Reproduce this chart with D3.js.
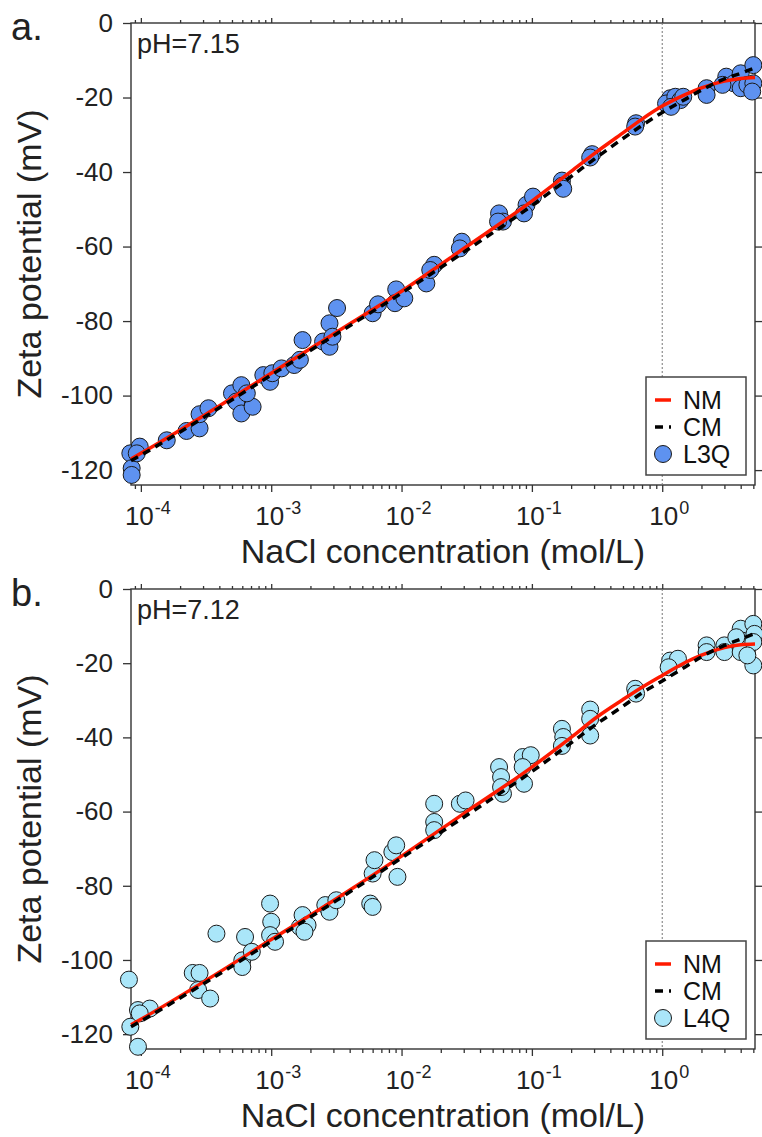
<!DOCTYPE html>
<html>
<head>
<meta charset="utf-8">
<script src="https://cdn.jsdelivr.net/npm/d3@7"></script>
<style>
  body { margin: 0; background: #fff; }
  svg { display: block; }
</style>
</head>
<body>
<div id="chart"></div>
<script>
// panel a: L3Q measurements (NaCl mol/L, zeta mV)
var concA = [8.3e-5, 8.5e-5, 8.5e-5, 9.8e-5, 9.3e-5, 1.58e-4, 2.24e-4, 2.82e-4, 2.82e-4, 3.3e-4,
  5.0e-4, 5.9e-4, 5.4e-4, 5.9e-4, 7.2e-4, 6.5e-4, 8.7e-4, 9.8e-4, 1.02e-3, 1.2e-3,
  1.5e-3, 1.66e-3, 1.74e-3, 2.5e-3, 2.8e-3, 2.8e-3, 3.2e-3, 2.95e-3, 6.0e-3, 6.6e-3,
  9.1e-3, 8.9e-3, 1.05e-2, 1.55e-2, 1.78e-2, 1.66e-2, 2.9e-2, 2.8e-2, 5.6e-2, 6.0e-2,
  5.5e-2, 9.1e-2, 0.102, 8.7e-2, 0.17, 0.17, 0.174, 0.29, 0.28, 0.63,
  0.62, 1.15, 1.07, 1.26, 1.38, 1.17, 1.45, 2.19, 2.19, 3.1,
  3.55, 4.0, 4.0, 4.5, 5.0, 5.0, 4.9, 2.9];
var zetaA = [-115.5, -119.5, -121.3, -113.7, -115.5, -112, -109.5, -108.8, -105, -103.4,
  -99.4, -97.2, -101.6, -104.8, -103, -99.4, -94.5, -96.3, -94, -92.7,
  -91.8, -90.4, -85.1, -85.5, -86.9, -80.6, -76.5, -84.2, -77.9, -75.5,
  -71.5, -75.2, -73.9, -69.9, -64.9, -66.3, -58.7, -60.5, -51.1, -53.3,
  -53.3, -48.8, -46.6, -51.1, -42.3, -43.7, -44.5, -35.2, -36.1, -26.9,
  -27.8, -20.2, -21.6, -19.8, -20.7, -22.5, -19.8, -17.5, -19.3, -14.4,
  -16.2, -13.5, -17.5, -16.6, -11.3, -16.2, -18.4, -16.6];

// panel b: L4Q measurements
var concB = [8.1e-5, 8.3e-5, 9.5e-5, 9.5e-5, 1.17e-4, 9.8e-5, 2.5e-4, 2.82e-4, 2.75e-4, 3.4e-4,
  3.8e-4, 6.0e-4, 6.0e-4, 6.3e-4, 7.1e-4, 9.8e-4, 1.0e-3, 9.8e-4, 1.07e-3, 1.66e-3,
  1.74e-3, 1.9e-3, 1.8e-3, 2.6e-3, 2.8e-3, 3.16e-3, 5.75e-3, 6.0e-3, 6.0e-3, 6.2e-3,
  8.5e-3, 9.1e-3, 9.3e-3, 1.78e-2, 1.78e-2, 1.78e-2, 2.8e-2, 3.1e-2, 5.6e-2, 5.8e-2,
  6.0e-2, 5.8e-2, 8.5e-2, 9.8e-2, 8.5e-2, 8.7e-2, 0.17, 0.174, 0.17, 0.28,
  0.28, 0.28, 0.62, 0.63, 1.15, 1.32, 1.12, 2.19, 2.19, 3.0,
  3.0, 4.0, 4.1, 4.0, 5.0, 5.1, 5.0, 5.0, 4.5, 3.7];
var zetaB = [-105.3, -118, -123.4, -113.5, -113.1, -114.4, -103.5, -103.5, -108.1, -110.4,
  -92.9, -100.1, -101.9, -93.8, -97.8, -84.8, -89.7, -93.3, -95.1, -91.1,
  -87.9, -90.6, -92.4, -85.2, -87, -83.9, -84.8, -85.7, -76.7, -73.1,
  -70.9, -69.1, -77.6, -57.9, -62.8, -65, -57.9, -57, -48, -50.7,
  -55.2, -53.4, -45.3, -44.8, -48, -52.5, -37.7, -39.9, -42.3, -32.5,
  -35, -39.5, -26.9, -28.2, -19.3, -18.8, -21.1, -15.2, -17, -15.2,
  -17, -10.7, -13.9, -17, -9.4, -12.1, -14.3, -20.6, -17.9, -13];

// model curves (NM = red solid, CM = black dashed)
var curveConc = [8.4e-5, 1e-4, 3.16e-4, 1e-3, 3.16e-3, 1e-2, 3.16e-2, 0.1, 0.2, 0.316, 0.5, 0.7, 1, 1.5, 2, 3, 4, 5.15];
var nmA = [-117, -115.5, -105, -94, -83, -72, -60, -47.8, -39.8, -34.5, -29.5, -25.8, -22.3, -19.2, -17.4, -15.6, -14.9, -14.6];
var cmA = [-117.5, -116, -105.5, -94.5, -83.5, -72.5, -61, -49, -41.2, -36, -31, -27.5, -24, -20.5, -18, -15, -13.5, -12];
var nmB = [-117.5, -116, -105.5, -94.5, -83.5, -72, -60, -48, -40, -34.5, -29.8, -26.5, -23.3, -19.8, -17.8, -15.8, -15, -14.8];
var cmB = [-118, -116.5, -106, -95, -84, -72.5, -61, -49.2, -41.5, -36.3, -31.6, -28, -24.8, -21, -18.3, -15.2, -13.5, -12];

var yTicks = [0, -20, -40, -60, -80, -100, -120];
var xMajor = [1e-4, 1e-3, 1e-2, 1e-1, 1];
var xExp = ["-4", "-3", "-2", "-1", "0"];

var font = "'Liberation Sans', Arial, sans-serif";
var ink = "#222";

var svg = d3.select("#chart")
  .append("svg")
  .attr("width", 762)
  .attr("height", 1137)
  .style("font-family", font);

// minor + major tick positions on the log axis
var xAll = [];
for (var k = -5; k <= 0; k++) {
  for (var m = 1; m <= 9; m++) {
    var v = m * Math.pow(10, k);
    if (v >= 8.4e-5 && v <= 5.15) xAll.push(v);
  }
}
function isMajor(v) {
  return xMajor.some(function (d) { return Math.abs(d - v) / d < 1e-6; });
}

function drawPanel(p) {
  var x = d3.scaleLog().domain([8.4e-5, 5.15]).range([131, 755]);
  var y = d3.scaleLinear().domain([-124, 0]).range([p.bottom, p.top]);
  var g = svg.append("g");

  // frame
  g.append("rect")
    .attr("x", 131).attr("y", p.top)
    .attr("width", 755 - 131).attr("height", p.bottom - p.top)
    .attr("fill", "none").attr("stroke", "#333").attr("stroke-width", 1.4);

  // ticks on all four sides
  var bottomAx = g.append("g")
    .attr("transform", "translate(0," + p.bottom + ")")
    .call(d3.axisBottom(x).tickValues(xAll).tickFormat("").tickSizeOuter(0));
  bottomAx.selectAll(".tick line").attr("y2", (d) => (isMajor(d) ? 7 : 4));

  var topAx = g.append("g")
    .attr("transform", "translate(0," + p.top + ")")
    .call(d3.axisTop(x).tickValues(xAll).tickFormat("").tickSizeOuter(0));
  topAx.selectAll(".tick line").attr("y2", (d) => (isMajor(d) ? -5 : -3));

  var leftAx = g.append("g")
    .attr("transform", "translate(131,0)")
    .call(d3.axisLeft(y).tickValues(yTicks).tickFormat((d) => String(d))
      .tickSize(8).tickPadding(10).tickSizeOuter(0));
  leftAx.selectAll("text")
    .attr("font-size", 26).attr("font-family", font).attr("fill", ink);

  g.append("g")
    .attr("transform", "translate(755,0)")
    .call(d3.axisRight(y).tickValues(yTicks).tickSize(7).tickFormat("").tickSizeOuter(0));

  g.selectAll(".domain").remove();
  g.selectAll(".tick line").attr("stroke", "#333").attr("stroke-width", 1.3);

  // 10^n labels
  var lab = g.selectAll(".xlab")
    .data(xMajor)
    .enter()
    .append("text")
    .attr("class", "xlab")
    .attr("x", (d) => x(d) + 7)
    .attr("y", p.bottom + 40)
    .attr("text-anchor", "middle")
    .attr("fill", ink)
    .attr("font-size", 26);
  lab.append("tspan").text("10");
  lab.append("tspan")
    .attr("dy", -11).attr("dx", 1)
    .attr("font-size", 18)
    .text((d, i) => xExp[i]);

  // dotted line at 1 mol/L
  g.append("line")
    .attr("x1", x(1)).attr("x2", x(1))
    .attr("y1", p.top).attr("y2", p.bottom)
    .attr("stroke", "#777").attr("stroke-width", 1)
    .attr("stroke-dasharray", "2,2");

  // markers
  g.selectAll(".pt")
    .data(p.conc)
    .enter()
    .append("circle")
    .attr("class", "pt")
    .attr("cx", (d) => x(d))
    .attr("cy", (d, i) => y(p.zeta[i]))
    .attr("r", 8.5)
    .attr("fill", p.color)
    .attr("stroke", "#1a1a1a")
    .attr("stroke-width", 1);

  var line = d3.line()
    .x((d) => x(d[0]))
    .y((d) => y(d[1]))
    .curve(d3.curveMonotoneX);

  g.append("path")
    .datum(curveConc.map((c, i) => [c, p.nm[i]]))
    .attr("d", line)
    .attr("fill", "none")
    .attr("stroke", "#ff1a00")
    .attr("stroke-width", 3.5);

  g.append("path")
    .datum(curveConc.map((c, i) => [c, p.cm[i]]))
    .attr("d", line)
    .attr("fill", "none")
    .attr("stroke", "#000")
    .attr("stroke-width", 3.5)
    .attr("stroke-dasharray", "8,6");

  // pH note and panel letter
  g.append("text")
    .attr("x", 137).attr("y", p.top + 30)
    .attr("font-size", 27).attr("fill", ink)
    .text(p.ph);

  g.append("text")
    .attr("x", 11).attr("y", p.top + 17)
    .attr("font-size", 38).attr("fill", ink)
    .text(p.letter);

  // axis titles
  g.append("text")
    .attr("x", 443).attr("y", p.bottom + 78)
    .attr("text-anchor", "middle")
    .attr("font-size", 34).attr("fill", ink)
    .text("NaCl concentration (mol/L)");

  g.append("text")
    .attr("transform", "translate(41," + (p.top + p.bottom) / 2 + ") rotate(-90)")
    .attr("text-anchor", "middle")
    .attr("font-size", 34).attr("fill", ink)
    .text("Zeta potential (mV)");

  // legend
  var lx = 646, ly = p.bottom - 108;
  var leg = g.append("g").attr("transform", "translate(" + lx + "," + ly + ")");
  leg.append("rect")
    .attr("width", 100).attr("height", 98)
    .attr("fill", "#fff").attr("stroke", "#444").attr("stroke-width", 1.5);

  var rows = [
    { name: "NM", kind: "nm" },
    { name: "CM", kind: "cm" },
    { name: p.label, kind: "pt" }
  ];
  rows.forEach(function (r, i) {
    var cy = 23 + i * 27;
    if (r.kind == "nm") {
      leg.append("line").attr("x1", 9).attr("x2", 25).attr("y1", cy).attr("y2", cy)
        .attr("stroke", "#ff1a00").attr("stroke-width", 3.5);
    } else if (r.kind == "cm") {
      leg.append("line").attr("x1", 9).attr("x2", 25).attr("y1", cy).attr("y2", cy)
        .attr("stroke", "#000").attr("stroke-width", 3.5).attr("stroke-dasharray", "8,6");
    } else {
      leg.append("circle").attr("cx", 17).attr("cy", cy).attr("r", 8.5)
        .attr("fill", p.color).attr("stroke", "#1a1a1a");
    }
    leg.append("text")
      .attr("x", 37).attr("y", cy).attr("dy", "0.36em")
      .attr("font-size", 25).attr("fill", "#111")
      .text(r.name);
  });
}

drawPanel({ top: 23, bottom: 485, conc: concA, zeta: zetaA, nm: nmA, cm: cmA,
  color: "#5e92f0", ph: "pH=7.15", letter: "a.", label: "L3Q" });
drawPanel({ top: 589, bottom: 1049, conc: concB, zeta: zetaB, nm: nmB, cm: cmB,
  color: "#aae6f9", ph: "pH=7.12", letter: "b.", label: "L4Q" });
</script>
</body>
</html>
